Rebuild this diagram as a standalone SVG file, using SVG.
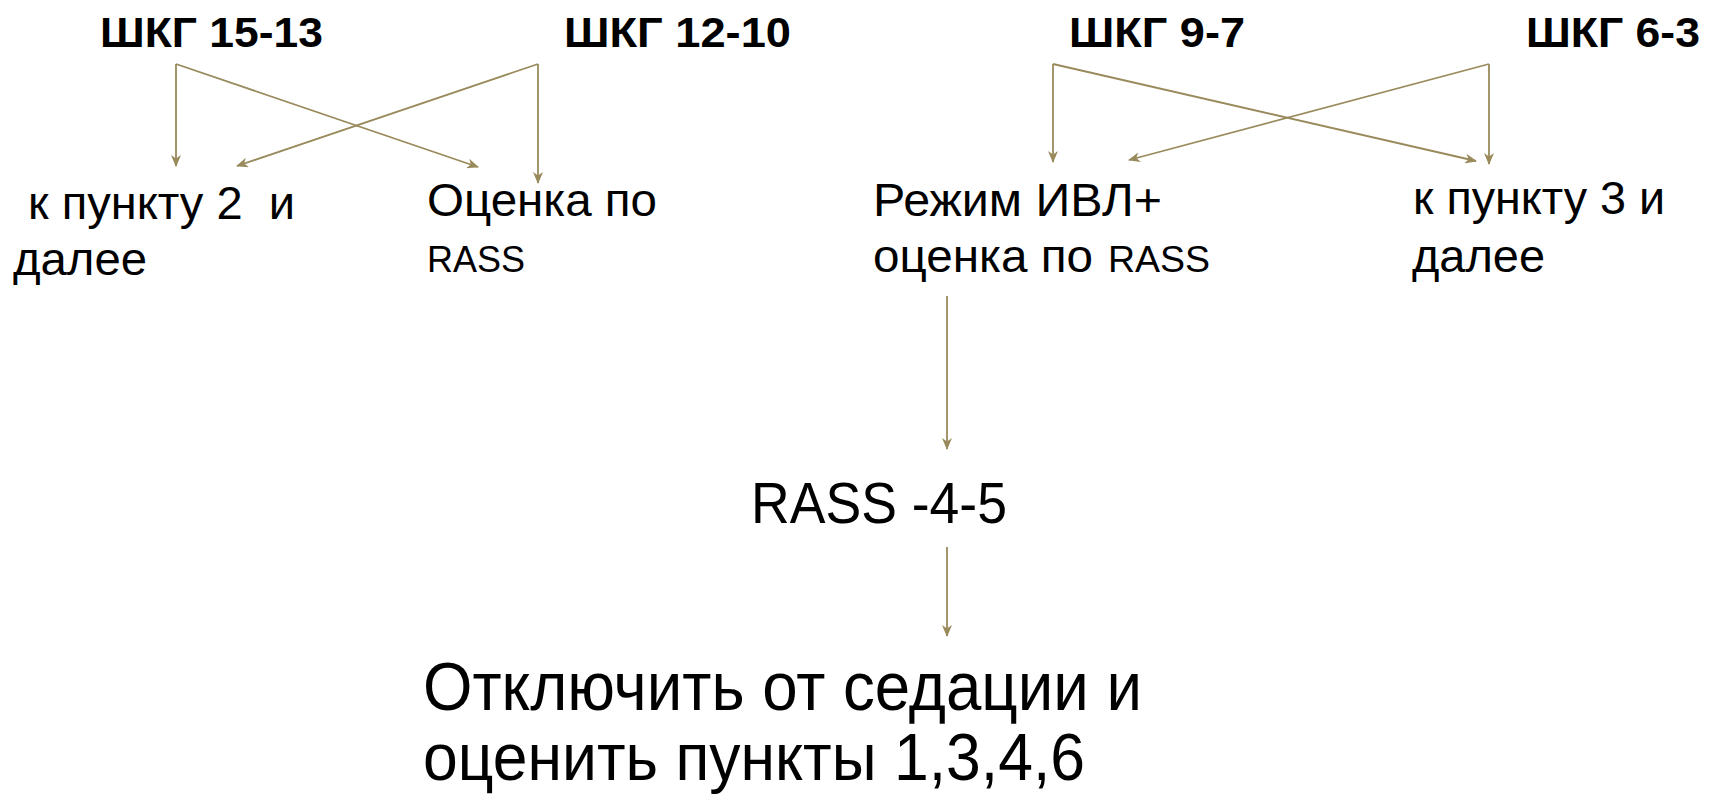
<svg xmlns="http://www.w3.org/2000/svg" width="1714" height="795" viewBox="0 0 1714 795">
<defs>
<marker id="arr" markerWidth="12" markerHeight="10" refX="11" refY="5" orient="auto" markerUnits="userSpaceOnUse">
<path d="M0,0 L12,5 L0,10 L3.5,5 z" fill="#998a5c"/>
</marker>
<style>
.t{font-family:"Liberation Sans",Arial,sans-serif;fill:#000;white-space:pre}
.h{font-family:"Liberation Sans",Arial,sans-serif;font-weight:bold;font-size:43px;fill:#000}
.c{stroke:#998a5c;stroke-width:1.8;fill:none;marker-end:url(#arr)}
</style>
</defs>
<rect width="1714" height="795" fill="#fff"/>
<g id="shkg1513"><text class="h" x="100" y="47" textLength="223" lengthAdjust="spacingAndGlyphs">ШКГ 15-13</text></g>
<g id="shkg1210"><text class="h" x="564" y="47" textLength="227" lengthAdjust="spacingAndGlyphs">ШКГ 12-10</text></g>
<g id="shkg97"><text class="h" x="1069" y="47" textLength="176" lengthAdjust="spacingAndGlyphs">ШКГ 9-7</text></g>
<g id="shkg63"><text class="h" x="1526" y="47" textLength="174" lengthAdjust="spacingAndGlyphs">ШКГ 6-3</text></g>
<g id="punkt2">
<text class="t" font-size="47" x="28" y="219" textLength="267" lengthAdjust="spacingAndGlyphs">к пункту 2  и</text>
<text class="t" font-size="47" x="13" y="275" textLength="134" lengthAdjust="spacingAndGlyphs">далее</text>
</g>
<g id="ocenka">
<text class="t" font-size="47" x="427" y="216" textLength="230" lengthAdjust="spacingAndGlyphs">Оценка по</text>
<text class="t" font-size="37" x="427" y="272" textLength="98" lengthAdjust="spacingAndGlyphs">RASS</text>
</g>
<g id="rezhim">
<text class="t" font-size="47" x="873" y="216" textLength="289" lengthAdjust="spacingAndGlyphs">Режим ИВЛ+</text>
<text class="t" font-size="47" x="873" y="272" textLength="220" lengthAdjust="spacingAndGlyphs">оценка по</text>
<text class="t" font-size="37" x="1108" y="272" textLength="102" lengthAdjust="spacingAndGlyphs">RASS</text>
</g>
<g id="punkt3">
<text class="t" font-size="47" x="1413" y="214" textLength="252" lengthAdjust="spacingAndGlyphs">к пункту 3 и</text>
<text class="t" font-size="47" x="1412" y="272" textLength="133" lengthAdjust="spacingAndGlyphs">далее</text>
</g>
<g id="rass45"><text class="t" font-size="57" x="751" y="523" textLength="256" lengthAdjust="spacingAndGlyphs">RASS -4-5</text></g>
<g id="otkl">
<text class="t" font-size="68" x="423" y="710" textLength="719" lengthAdjust="spacingAndGlyphs">Отключить от седации и</text>
<text class="t" font-size="66" x="423" y="780" textLength="662" lengthAdjust="spacingAndGlyphs">оценить пункты 1,3,4,6</text>
</g>
<g id="connectors">
<line class="c" x1="176" y1="64" x2="176" y2="166"/>
<line class="c" x1="176" y1="64" x2="478" y2="167"/>
<line class="c" x1="538" y1="64" x2="237" y2="166"/>
<line class="c" x1="538" y1="64" x2="538" y2="183"/>
<line class="c" x1="1053" y1="64" x2="1053" y2="162"/>
<line class="c" x1="1053" y1="64" x2="1476" y2="161"/>
<line class="c" x1="1489" y1="64" x2="1129" y2="160"/>
<line class="c" x1="1489" y1="64" x2="1489" y2="164"/>
<line class="c" x1="947" y1="296" x2="947" y2="449"/>
<line class="c" x1="947" y1="547" x2="947" y2="636"/>
</g>
</svg>
